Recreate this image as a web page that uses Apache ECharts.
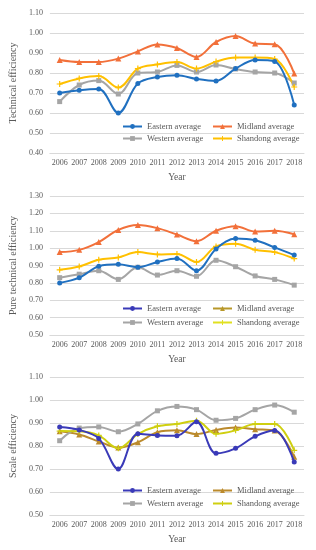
<!DOCTYPE html>
<html><head><meta charset="utf-8">
<script src="https://cdn.jsdelivr.net/npm/echarts@6/dist/echarts.min.js"></script>
<style>html,body{margin:0;padding:0;background:#fff}#c{width:316px;height:550px}</style>
</head><body><div id="c"></div>
<script>
const years = ['2006','2007','2008','2009','2010','2011','2012','2013','2014','2015','2016','2017','2018'];
const seriesNames = ['Eastern average','Midland average','Western average','Shandong average'];

// Chart 1: Technical efficiency
const te_eastern  = [0.70,0.714,0.72,0.60,0.747,0.78,0.789,0.77,0.76,0.822,0.865,0.858,0.64];
const te_midland  = [0.865,0.855,0.855,0.872,0.908,0.943,0.925,0.88,0.955,0.985,0.947,0.944,0.797];
const te_western  = [0.657,0.74,0.762,0.695,0.80,0.805,0.838,0.805,0.84,0.82,0.805,0.80,0.75];
const te_shandong = [0.745,0.773,0.785,0.727,0.822,0.843,0.855,0.822,0.857,0.877,0.877,0.87,0.73];

// Chart 2: Pure technical efficiency
const pte_eastern  = [0.80,0.83,0.896,0.907,0.89,0.92,0.94,0.87,0.995,1.055,1.045,1.004,0.96];
const pte_midland  = [0.977,0.99,1.035,1.105,1.133,1.115,1.078,1.04,1.10,1.126,1.095,1.10,1.08];
const pte_western  = [0.83,0.85,0.87,0.82,0.89,0.845,0.87,0.838,0.93,0.893,0.84,0.82,0.787];
const pte_shandong = [0.875,0.894,0.933,0.946,0.977,0.964,0.966,0.92,1.01,1.025,0.99,0.977,0.94];

// Chart 3: Scale efficiency
const se_eastern  = [0.883,0.87,0.833,0.70,0.853,0.846,0.845,0.905,0.768,0.79,0.842,0.867,0.73];
const se_midland  = [0.864,0.85,0.82,0.793,0.816,0.86,0.868,0.852,0.87,0.88,0.873,0.867,0.753];
const se_western  = [0.823,0.878,0.883,0.862,0.896,0.953,0.972,0.958,0.912,0.92,0.958,0.978,0.947];
const se_shandong = [0.865,0.864,0.846,0.79,0.852,0.886,0.896,0.91,0.853,0.868,0.896,0.896,0.781];

const yTitles = ['Technical efficiency','Pure technical efficiency','Scale efficiency'];
const yMin = [0.4,0.5,0.5], yMax = [1.1,1.3,1.1];
const dataSets = [
  [te_eastern,te_midland,te_western,te_shandong],
  [pte_eastern,pte_midland,pte_western,pte_shandong],
  [se_eastern,se_midland,se_western,se_shandong]
];
const colors = [
  ['#2070C0','#F2703A','#A5A5A5','#FFC000'],
  ['#2070C0','#F2703A','#A5A5A5','#FFC000'],
  ['#3A3AB8','#BB8A2C','#A5A5A5','#CFCF10']
];
const legendColors = [
  ['#2070C0','#F2703A','#A5A5A5','#FFC000'],
  ['#3A3AB8','#B8982A','#A5A5A5','#E0E020'],
  ['#3A3AB8','#BB8A2C','#A5A5A5','#CFCF10']
];
const plus = 'path://M4,0 L6,0 L6,4 L10,4 L10,6 L6,6 L6,10 L4,10 L4,6 L0,6 L0,4 L4,4 Z';
const symbols = ['circle','triangle','rect',plus];
const symbolSizes = [5,6,5,6];

const gridTops = [13,196,377], gridHeights = [140,139,138];
const legendRows = [[127,139],[309,323],[491,504]];
const font = 'Liberation Serif';
const txt = '#595959';

const grid=[],xAxis=[],yAxis=[],series=[],legend=[];
for(let g=0;g<3;g++){
  grid.push({left:40,width:264,top:gridTops[g],height:gridHeights[g]});
  xAxis.push({type:'category',gridIndex:g,data:years,boundaryGap:true,
    axisTick:{show:false},axisLine:{lineStyle:{color:'#d9d9d9'}},
    axisLabel:{color:txt,fontFamily:font,fontSize:8,margin:6,interval:0,hideOverlap:false},
    name:'Year',nameLocation:'middle',nameGap:19,
    nameTextStyle:{color:txt,fontFamily:font,fontSize:9.5}});
  yAxis.push({type:'value',gridIndex:g,min:yMin[g],max:yMax[g],interval:0.1,
    axisLine:{show:false},axisTick:{show:false},
    splitLine:{lineStyle:{color:'#d9d9d9',width:1}},
    axisLabel:{color:txt,fontFamily:font,fontSize:8,margin:7,formatter:v=>v.toFixed(2)},
    name:yTitles[g],nameLocation:'middle',nameGap:27,
    nameTextStyle:{color:txt,fontFamily:font,fontSize:10}});
  for(let s=0;s<4;s++){
    const nm = seriesNames[s]+'#'+g;
    series.push({type:'line',name:nm,xAxisIndex:g,yAxisIndex:g,data:dataSets[g][s],
      smooth:0.35,symbol:symbols[s],symbolSize:symbolSizes[s],showSymbol:true,
      lineStyle:{width:2,color:colors[g][s]},itemStyle:{color:colors[g][s]},z:s===0?5:3});
    const left = (s%2===0)?122:212;
    const top = legendRows[g][Math.floor(s/2)]-5;
    legend.push({left:left,top:top,padding:0,itemWidth:19,itemHeight:6,itemGap:4,
      selectedMode:false,
      data:[{name:nm,itemStyle:{color:legendColors[g][s]},lineStyle:{color:legendColors[g][s],width:2}}],
      formatter:n=>n.split('#')[0],
      textStyle:{color:txt,fontFamily:font,fontSize:8.5,padding:[0,0,0,0]}});
  }
}
const chart = echarts.init(document.getElementById('c'),null,{renderer:'canvas'});
chart.setOption({animation:false,backgroundColor:'#fff',grid,xAxis,yAxis,series,legend});
</script></body></html>
